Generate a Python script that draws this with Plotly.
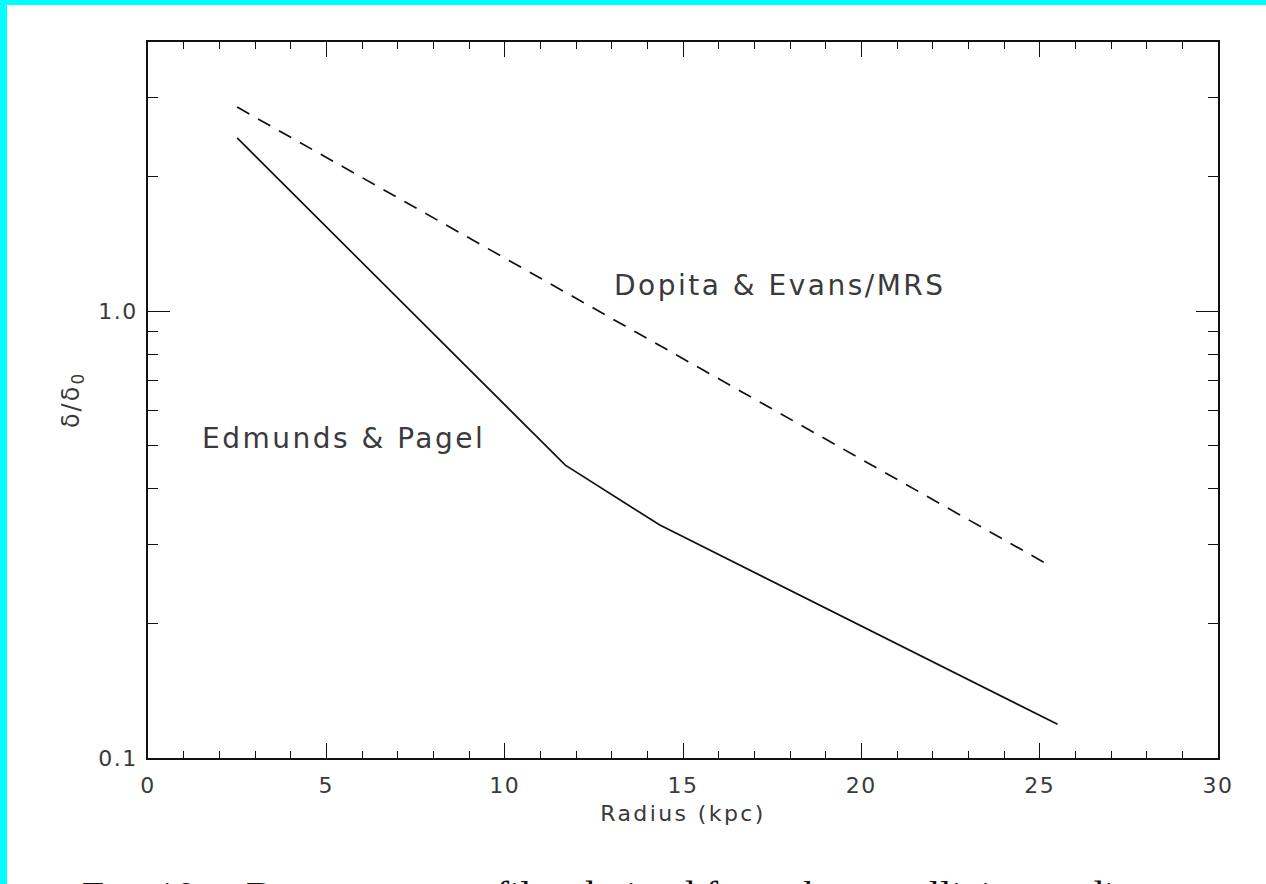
import plotly.graph_objects as go

# Dust-to-gas ratio profiles (normalised to the solar-circle value) vs galactocentric radius
edmunds_radius = [2.5, 11.7, 14.35, 25.5]
edmunds_ratio = [2.44, 0.452, 0.332, 0.119]

dopita_radius = [2.5, 25.3]
dopita_ratio = [2.86, 0.269]

x_major = [0, 5, 10, 15, 20, 25, 30]
x_major_text = ["0", "5", "10", "15", "20", "25", "30"]
y_major = [0.1, 1.0]
y_major_text = ["0.1", "1.0"]
y_minor = [0.2, 0.3, 0.4, 0.5, 0.6, 0.7, 0.8, 0.9, 2, 3]

W, H = 1266, 884
L, R, T, B = 148, 48, 42, 126
PW, PH = W - L - R, H - T - B


def px(x):
    return (x - L) / PW


def py(y):
    return (H - B - y) / PH


def spaced(s, ls):
    return f"<span style='letter-spacing:{ls}px'>{s}</span>"


FONT = "DejaVu Sans"
TXT = "#3a3a3a"

fig = go.Figure()
fig.add_trace(go.Scatter(x=edmunds_radius, y=edmunds_ratio, mode="lines",
                         line=dict(color="#111", width=1.7), showlegend=False))
fig.add_trace(go.Scatter(x=dopita_radius, y=dopita_ratio, mode="lines",
                         line=dict(color="#111", width=1.7, dash="14px,10px"),
                         showlegend=False))

axis_common = dict(showline=True, linecolor="#111", linewidth=1.5, mirror="allticks",
                   ticks="inside", tickcolor="#111", tickwidth=1.3,
                   showgrid=False, zeroline=False,
                   tickfont=dict(family=FONT, size=22, color=TXT))

fig.update_xaxes(range=[0, 30], tickvals=x_major,
                 ticktext=[spaced(t, 1.5) for t in x_major_text], ticklen=15,
                 minor=dict(dtick=1, ticklen=7, ticks="inside", tickcolor="#111",
                            tickwidth=1.3, showgrid=False),
                 ticklabelstandoff=7,
                 title=dict(text=spaced("Radius (kpc)", 2.4),
                            font=dict(family=FONT, size=22, color=TXT), standoff=8),
                 **axis_common)
fig.update_yaxes(type="log", range=[-1, 0.60206], tickvals=y_major,
                 ticktext=[spaced(t, 1.5) for t in y_major_text],
                 ticklen=22,
                 minor=dict(tickmode="array", tickvals=y_minor, ticklen=10, ticks="inside",
                            tickcolor="#111", tickwidth=1.3, showgrid=False),
                 ticklabelstandoff=4,
                 title=dict(text=spaced("δ/δ<sub>0</sub>", 2),
                            font=dict(family=FONT, size=24, color=TXT), standoff=12),
                 **axis_common)

fig.add_annotation(x=px(612), y=py(285), xref="paper", yref="paper", xanchor="left",
                   yanchor="middle", text=spaced("Dopita &amp; Evans/MRS", 2.5),
                   showarrow=False, font=dict(family=FONT, size=28, color=TXT))
fig.add_annotation(x=px(200), y=py(438), xref="paper", yref="paper", xanchor="left",
                   yanchor="middle", text=spaced("Edmunds &amp; Pagel", 2.5),
                   showarrow=False, font=dict(family=FONT, size=28, color=TXT))

# figure caption, running off the bottom edge of the page
fig.add_annotation(x=px(80), y=py(870.5), xref="paper", yref="paper", xanchor="left",
                   yanchor="top",
                   text="F<span style='font-size:30px'>IG</span>. 10.—Dust-to-gas profiles derived from the metallicity gradients",
                   showarrow=False,
                   font=dict(family="Liberation Serif", size=40, color="#111"))

# cyan frame along the top and left edges
fig.add_shape(type="rect", xref="paper", yref="paper", x0=px(0), x1=px(7), y0=py(H), y1=py(0),
              fillcolor="#00ffff", line=dict(width=0), layer="above")
fig.add_shape(type="rect", xref="paper", yref="paper", x0=px(0), x1=px(W), y0=py(5), y1=py(0),
              fillcolor="#00ffff", line=dict(width=0), layer="above")

fig.update_layout(width=W, height=H, margin=dict(l=L, r=R, t=T, b=B),
                  paper_bgcolor="white", plot_bgcolor="white")

fig.write_html("out.html")
